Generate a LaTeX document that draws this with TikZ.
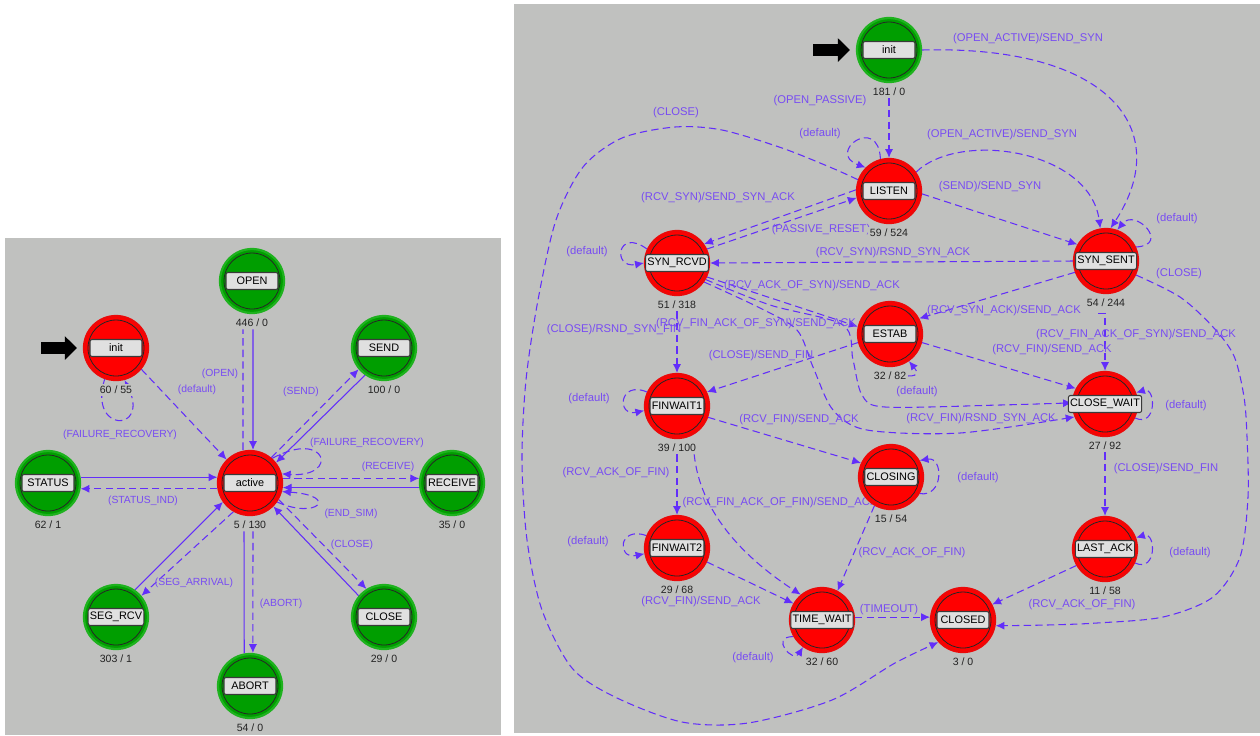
\documentclass[tikz,border=0pt]{standalone}
\usepackage{fontspec}
\setmainfont{Liberation Sans}
\usetikzlibrary{arrows.meta,positioning,calc}
\definecolor{PanelGray} {RGB}{192,193,191}
\definecolor{StateRed}  {RGB}{255,  0,  0}
\definecolor{RingRed}   {RGB}{236,  8,  8}
\definecolor{StateGreen}{RGB}{  0,158,  0}
\definecolor{RingGreen} {RGB}{ 30,178, 30}
\definecolor{TransLine} {RGB}{ 98, 46,250}
\definecolor{TransText} {RGB}{120, 76,242}
\definecolor{BoxFill}   {RGB}{224,224,224}
\definecolor{BoxEdge}   {RGB}{ 58, 58, 58}
\definecolor{CountText} {RGB}{ 34, 34, 34}
\pgfdeclarelayer{panel}
\pgfdeclarelayer{wires}
\pgfsetlayers{panel,wires,main}
\tikzset{
  fsmstate/.style={circle, minimum size=1.28cm, inner sep=0pt, line width=1.3pt},
  staterim/.style={circle, minimum size=1.12cm, inner sep=0pt, draw=black!85, line width=0.45pt},
  namebox/.style={rectangle, rounded corners=1.2pt, fill=BoxFill, draw=BoxEdge,
                  line width=0.6pt, minimum width=1.04cm, minimum height=0.34cm,
                  inner sep=1pt, font=\fontsize{6.2}{7}\selectfont},
  countlabel/.style={fill=PanelGray, text=CountText, inner xsep=1pt, inner ysep=1.2pt,
                     font=\fontsize{6}{7}\selectfont},
  trlabel/.style={text=TransText, inner sep=0pt, font=\fontsize{6.4}{7}\selectfont},
  condtr/.style={draw=TransLine, line width=0.6pt, dash pattern=on 4.2pt off 2.4pt,
                 -{Latex[length=5pt,width=4.6pt]}},
  uncondtr/.style={draw=TransLine, line width=0.6pt, -{Latex[length=5pt,width=4.6pt]}},
  entry/.style={line width=0.24cm, -{Triangle[length=0.24cm,width=0.46cm]},
                shorten >=0.12cm}
}
\newcommand{\FsmState}[6]{%
  \node[fsmstate, fill=#3, draw=#4] (#1) at (#2) {};
  \node[staterim] (#1-rim) at (#1.center) {};
  \node[namebox] (#1-box) at (#1.center) {#5};
  \node[countlabel] (#1-cnt) at ([yshift=-0.84cm]#1.center) {#6};
}

\begin{document}
\begin{tikzpicture}[x=0.02cm, y=-0.02cm]
  \useasboundingbox (0,0) rectangle (1260,735);
  \begin{pgfonlayer}{panel}
    \fill[white]     (0,0)   rectangle (1260,735);
    \fill[PanelGray] (5,238) rectangle (501,735);
    \fill[PanelGray] (514,4) rectangle (1260,733);
  \end{pgfonlayer}

  % ---- left panel: manager process ----
  \begin{scope}[trlabel/.append style={font=\fontsize{5.9}{7}\selectfont}]
    \FsmState{mgrInit}{116,348}{StateRed}{RingRed}{init}{60 / 55}
    \FsmState{mgrOpen}{252,281}{StateGreen}{RingGreen}{OPEN}{446 / 0}
    \FsmState{mgrSend}{384,348}{StateGreen}{RingGreen}{SEND}{100 / 0}
    \FsmState{mgrStatus}{48,483}{StateGreen}{RingGreen}{STATUS}{62 / 1}
    \FsmState{mgrActive}{250,483}{StateRed}{RingRed}{active}{5 / 130}
    \FsmState{mgrReceive}{452,483}{StateGreen}{RingGreen}{RECEIVE}{35 / 0}
    \FsmState{mgrSegRcv}{116,617}{StateGreen}{RingGreen}{SEG\_RCV}{303 / 1}
    \FsmState{mgrClose}{384,617}{StateGreen}{RingGreen}{CLOSE}{29 / 0}
    \FsmState{mgrAbort}{250,686}{StateGreen}{RingGreen}{ABORT}{54 / 0}

    \begin{pgfonlayer}{wires}
      \coordinate (mgrEntry) at (41,348);
      \draw[entry] (mgrEntry) -- (mgrInit.west);
      \draw[condtr] (mgrInit.-40) -- (mgrActive.135);
      \draw[condtr] (mgrInit.-110) .. controls +(-17,54) and +(26,53) .. (mgrInit.-75);
      \draw[condtr, -] ([xshift=-0.14cm]mgrActive.north) -- ([xshift=-0.18cm]mgrOpen-cnt.south);
      \draw[uncondtr] ([xshift=0.02cm]mgrOpen-cnt.south) -- ([xshift=0.06cm]mgrActive.north);
      \draw[condtr] (mgrActive.50) -- (mgrSend.220);
      \draw[uncondtr] (mgrSend.235) -- (mgrActive.38);
      \draw[condtr] (mgrActive.48) .. controls +(55,-30) and +(58,4) .. (mgrActive.16);
      \draw[condtr] (mgrActive.8) -- (mgrReceive.172);
      \draw[uncondtr] (mgrReceive.188) -- (mgrActive.352);
      \draw[uncondtr] (mgrStatus.10) -- (mgrActive.170);
      \draw[condtr] (mgrActive.190) -- (mgrStatus.350);
      \draw[condtr] (mgrActive.-35) .. controls +(40,18) and +(58,4) .. (mgrActive.-15);
      \draw[condtr] (mgrActive.-30) -- (mgrClose.122);
      \draw[uncondtr] (mgrClose.140) -- (mgrActive.-45);
      \draw[uncondtr] (mgrSegRcv.55) -- (mgrActive.215);
      \draw[condtr] (mgrActive.240) -- (mgrSegRcv.40);
      \draw[uncondtr, -] (mgrAbort.100) -- ([xshift=-0.12cm]mgrActive-cnt.south);
      \draw[condtr] ([xshift=0.06cm]mgrActive-cnt.south) -- (mgrAbort.85);

      \node[trlabel] (lblMgrOpen)    at (220,374) {(OPEN)};
      \node[trlabel] (lblMgrDef)     at (197,390) {(default)};
      \node[trlabel] (lblMgrRecov)   at (120,435) {(FAILURE\_RECOVERY)};
      \node[trlabel] (lblMgrSend)    at (301,392) {(SEND)};
      \node[trlabel] (lblMgrRecov2)  at (367,443) {(FAILURE\_RECOVERY)};
      \node[trlabel] (lblMgrReceive) at (388,467) {(RECEIVE)};
      \node[trlabel] (lblMgrStatus)  at (143,501) {(STATUS\_IND)};
      \node[trlabel] (lblMgrEndSim)  at (351,514) {(END\_SIM)};
      \node[trlabel] (lblMgrClose)   at (352,545) {(CLOSE)};
      \node[trlabel] (lblMgrSegArr)  at (194,583) {(SEG\_ARRIVAL)};
      \node[trlabel] (lblMgrAbort)   at (281,604) {(ABORT)};
    \end{pgfonlayer}
  \end{scope}

  % ---- right panel: connection process ----
  \FsmState{conInit}{889,50}{StateGreen}{RingGreen}{init}{181 / 0}
  \FsmState{listen}{889,191}{StateRed}{RingRed}{LISTEN}{59 / 524}
  \FsmState{synSent}{1106,261}{StateRed}{RingRed}{SYN\_SENT}{54 / 244}
  \FsmState{synRcvd}{677,263}{StateRed}{RingRed}{SYN\_RCVD}{51 / 318}
  \FsmState{estab}{890,334}{StateRed}{RingRed}{ESTAB}{32 / 82}
  \FsmState{finWait1}{677,406}{StateRed}{RingRed}{FINWAIT1}{39 / 100}
  \FsmState{closeWait}{1105,404}{StateRed}{RingRed}{CLOSE\_WAIT}{27 / 92}
  \FsmState{closing}{891,477}{StateRed}{RingRed}{CLOSING}{15 / 54}
  \FsmState{finWait2}{677,548}{StateRed}{RingRed}{FINWAIT2}{29 / 68}
  \FsmState{lastAck}{1105,549}{StateRed}{RingRed}{LAST\_ACK}{11 / 58}
  \FsmState{timeWait}{822,620}{StateRed}{RingRed}{TIME\_WAIT}{32 / 60}
  \FsmState{closed}{963,620}{StateRed}{RingRed}{CLOSED}{3 / 0}

  \begin{pgfonlayer}{wires}
    \coordinate (conEntry) at (813,50);
    \draw[entry] (conEntry) -- (conInit.west);
    \draw[condtr] (conInit-cnt.south) -- (listen.north);
    \draw[condtr] (conInit.east) .. controls (1110,45) and (1175,130) .. (synSent.82);
    \draw[condtr] (listen.35) .. controls (960,130) and (1090,150) .. (synSent.100);
    \draw[condtr] (listen.-5) -- (synSent.150);
    \draw[condtr] (listen.105) .. controls +(-2,-45) and +(-40,-15) .. (listen.135);
    \draw[condtr] plot[smooth] coordinates {(listen.160) (832,168) (782,148) (722,130)
      (675,127) (622,138) (583,167) (556,220) (538,300) (526,380) (522,460) (527,540)
      (542,610) (572,668) (615,697) (682,722) (748,723) (832,700) (895,663) (closed.-138)};
    \draw[condtr] (listen.178) -- (synRcvd.35);
    \draw[condtr] (synRcvd.25) -- (listen.192);
    \draw[condtr] (synRcvd.155) .. controls +(-30,-22) and +(-32,6) .. (synRcvd.180);
    \draw[condtr] (synSent.west) -- (synRcvd.east);
    \draw[condtr] (synSent.25) .. controls +(35,-2) and +(18,-22) .. (synSent.70);
    \draw[condtr] plot[smooth] coordinates {(synSent.-25) (1180,297) (1213,327) (1234,356)
      (1244,397) (1247,437) (1248,497) (1240,557) (1213,597) (1163,617) (1097,623)
      (1047,625) (closed.-10)};
    \draw[condtr] (synSent.200) -- (estab.28);
    \draw[condtr] ([xshift=-0.16cm,yshift=-0.08cm]synSent-cnt.south) -| (closeWait.north);
    \draw[condtr] (synRcvd.-25) -- (estab.167);
    \draw[condtr] plot[smooth] coordinates {(synRcvd.-30) (770,305) (843,325) (853,360)
      (862,395) (885,407) (1000,405) (closeWait.178)};
    \draw[condtr] plot[smooth] coordinates {(synRcvd.-35) (760,308) (797,330) (813,367)
      (833,410) (867,430) (960,433) (closeWait.-157)};
    \draw[condtr] (estab-cnt.east) .. controls +(12,0) and +(8,10) .. (estab.-55);
    \draw[condtr] (estab.195) -- (finWait1.25);
    \draw[condtr] (estab.-15) -- (closeWait.152);
    \draw[condtr] (synRcvd-cnt.south) -- (finWait1.north);
    \draw[condtr] (finWait1.155) .. controls +(-28,-12) and +(-28,6) .. (finWait1.188);
    \draw[condtr] (closeWait.-25) .. controls +(22,10) and +(20,-6) .. (closeWait.20);
    \draw[condtr] (finWait1.-20) -- (closing.155);
    \draw[condtr] (finWait1-cnt.south) -- (finWait2.north);
    \draw[condtr] ([xshift=-0.08cm]finWait1-cnt.south east) .. controls (700,510) and (740,555) .. (timeWait.130);
    \draw[condtr] (closing.-30) .. controls +(24,4) and +(24,-4) .. (closing.30);
    \draw[condtr] (closing.-120) -- (timeWait.62);
    \draw[condtr] (finWait2.158) .. controls +(-28,-10) and +(-28,6) .. (finWait2.190);
    \draw[condtr] (finWait2.-25) -- (timeWait.150);
    \draw[condtr] (timeWait.-150) .. controls +(-24,0) and +(-10,16) .. (timeWait.-125);
    \draw[condtr] (timeWait.5) -- (closed.175);
    \draw[condtr] (closeWait-cnt.south) -- (lastAck.north);
    \draw[condtr] (lastAck.-25) .. controls +(22,10) and +(20,-6) .. (lastAck.20);
    \draw[condtr] (lastAck.-150) -- (closed.28);

    \node[trlabel] (lblOpenPas)     at (820,101) {(OPEN\_PASSIVE)};
    \node[trlabel] (lblOpenAct)     at (1028,39) {(OPEN\_ACTIVE)/SEND\_SYN};
    \node[trlabel] (lblListenAct)   at (1002,135) {(OPEN\_ACTIVE)/SEND\_SYN};
    \node[trlabel] (lblSendSyn)     at (990,187) {(SEND)/SEND\_SYN};
    \node[trlabel] (lblListenDef)   at (820,134) {(default)};
    \node[trlabel] (lblListenClose) at (676,113) {(CLOSE)};
    \node[trlabel] (lblRcvSyn)      at (718,198) {(RCV\_SYN)/SEND\_SYN\_ACK};
    \node[trlabel] (lblPassive)     at (821,230) {(PASSIVE\_RESET)};
    \node[trlabel] (lblSynRcvdDef)  at (587,252) {(default)};
    \node[trlabel] (lblRsndSynAck)  at (893,253) {(RCV\_SYN)/RSND\_SYN\_ACK};
    \node[trlabel] (lblSynSentDef)  at (1177,219) {(default)};
    \node[trlabel] (lblSynSentClose) at (1179,274) {(CLOSE)};
    \node[trlabel] (lblSynAck)      at (1004,311) {(RCV\_SYN\_ACK)/SEND\_ACK};
    \node[trlabel] (lblFinAckSynS)  at (1136,335) {(RCV\_FIN\_ACK\_OF\_SYN)/SEND\_ACK};
    \node[trlabel] (lblAckOfSyn)    at (812,286) {(RCV\_ACK\_OF\_SYN)/SEND\_ACK};
    \node[trlabel] (lblFinAckSynR)  at (756,324) {(RCV\_FIN\_ACK\_OF\_SYN)/SEND\_ACK};
    \node[trlabel] (lblCloseRsnd)   at (614,330) {(CLOSE)/RSND\_SYN\_FIN};
    \node[trlabel] (lblCloseFin)    at (761,356) {(CLOSE)/SEND\_FIN};
    \node[trlabel] (lblEstabDef)    at (917,392) {(default)};
    \node[trlabel] (lblEstabFin)    at (1052,350) {(RCV\_FIN)/SEND\_ACK};
    \node[trlabel] (lblFinRsnd)     at (981,419) {(RCV\_FIN)/RSND\_SYN\_ACK};
    \node[trlabel] (lblFw1Def)      at (589,399) {(default)};
    \node[trlabel] (lblCwDef)       at (1186,406) {(default)};
    \node[trlabel] (lblFw1Fin)      at (799,420) {(RCV\_FIN)/SEND\_ACK};
    \node[trlabel] (lblAckOfFin1)   at (616,473) {(RCV\_ACK\_OF\_FIN)};
    \node[trlabel] (lblFinAckFin)   at (780,503) {(RCV\_FIN\_ACK\_OF\_FIN)/SEND\_ACK};
    \node[trlabel] (lblClosingDef)  at (978,478) {(default)};
    \node[trlabel] (lblAckOfFin2)   at (912,553) {(RCV\_ACK\_OF\_FIN)};
    \node[trlabel] (lblFw2Def)      at (588,542) {(default)};
    \node[trlabel] (lblFw2Fin)      at (701,602) {(RCV\_FIN)/SEND\_ACK};
    \node[trlabel] (lblTwDef)       at (753,658) {(default)};
    \node[trlabel] (lblTimeout)     at (889,610) {(TIMEOUT)};
    \node[trlabel] (lblCwClose)     at (1166,469) {(CLOSE)/SEND\_FIN};
    \node[trlabel] (lblLaDef)       at (1190,553) {(default)};
    \node[trlabel] (lblAckOfFin3)   at (1082,605) {(RCV\_ACK\_OF\_FIN)};
  \end{pgfonlayer}
\end{tikzpicture}
\end{document}
